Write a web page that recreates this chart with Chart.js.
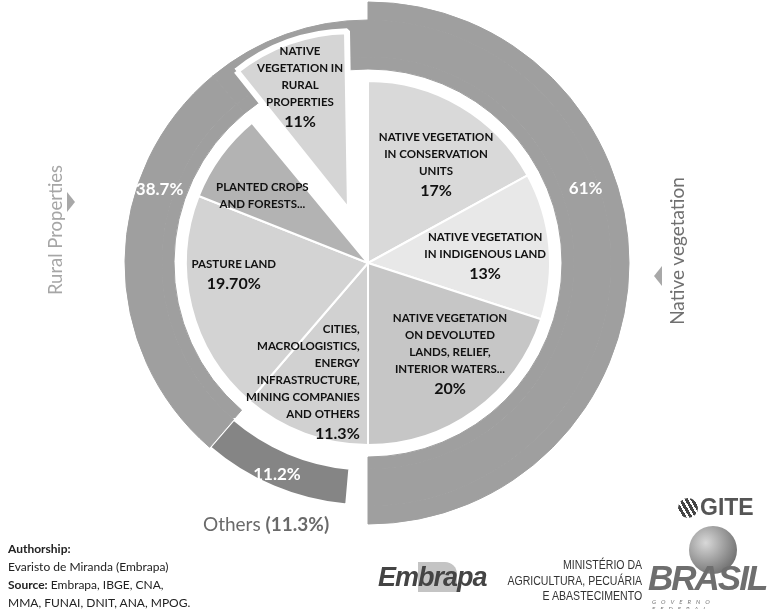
<!DOCTYPE html>
<html>
<head>
<meta charset="utf-8">
<script src="https://cdn.jsdelivr.net/npm/chart.js@4.4.0/dist/chart.umd.min.js"></script>
<style>
  body { margin: 0; background: #fff; }
  #wrap { position: relative; width: 772px; height: 609px; overflow: hidden; font-family: Lato, "Open Sans", sans-serif; }
  #chart { position: absolute; left: 0; top: 0; }
  .lbl { position: absolute; transform: translate(-50%, -50%); font-weight: 700; font-size: 11.5px; line-height: 17px; color: #111; white-space: nowrap; text-align: center; }
  .lbl .pct { display: block; font-size: 16px; line-height: 21px; }
  .ringPct { position: absolute; transform: translate(-50%, -50%); color: #fff; font-weight: 700; font-size: 17px; white-space: nowrap; }
  .side { position: absolute; transform: translate(-50%, -50%) rotate(-90deg); white-space: nowrap; }
  .arrow { position: absolute; width: 0; height: 0; border-top: 10px solid transparent; border-bottom: 10px solid transparent; }
  #others { position: absolute; left: 203px; top: 512px; font-size: 19px; color: #6a6a6a; white-space: nowrap; }
  #credits { position: absolute; left: 8px; top: 540px; font-size: 12px; line-height: 18px; color: #222; }
  #gite { position: absolute; left: 678px; top: 494px; font-family: "Liberation Sans", Arial, sans-serif; font-weight: 700; font-size: 23px; color: #555; }
  #gite .ball { display: inline-block; width: 20px; height: 20px; border-radius: 50%; vertical-align: -3px; margin-right: 2px;
    background: repeating-linear-gradient(60deg, #444 0 3px, #fff 3px 5px); }
  #embrapa { position: absolute; left: 378px; top: 562px; font-family: "Liberation Sans", Arial, sans-serif; font-weight: 700; font-style: italic; font-size: 27px; color: #444; letter-spacing: -1px; }
  #embrapa .bra { background: #c4c4c4; border-radius: 0 12px 0 0; }
  #ministerio { position: absolute; right: 130px; top: 558px; text-align: right; font-family: "Liberation Sans", Arial, sans-serif; font-size: 12px; line-height: 15.5px; color: #333; transform: scaleX(0.88); transform-origin: right top; }
  #brasil { position: absolute; left: 646px; top: 520px; width: 126px; height: 89px; }
  #brasil .globe { position: absolute; left: 43px; top: 6px; width: 48px; height: 48px; border-radius: 50%; background: radial-gradient(circle at 35% 35%, #d8d8d8, #7a7a7a 70%, #555); }
  #brasil .word { position: absolute; left: 2px; top: 38px; font-family: "Liberation Sans", Arial, sans-serif; font-weight: 700; font-style: italic; font-size: 35px; letter-spacing: -2px; color: #6e6e6e; }
  #brasil .gov { position: absolute; left: 6px; top: 78px; font-size: 6px; letter-spacing: 5px; color: #777; font-style: italic; }
</style>
</head>
<body>
<div id="wrap">
  <canvas id="chart" width="772" height="609"></canvas>

  <div class="side" style="left:55px; top:230px; font-size:18.5px; color:#a6a6a6;">Rural Properties</div>
  <div class="arrow" style="left:67px; top:192px; border-left:8px solid #a8a8a8;"></div>
  <div class="side" style="left:676px; top:251px; font-size:19px; color:#707070;">Native vegetation</div>
  <div class="arrow" style="left:654px; top:266px; border-right:8px solid #a8a8a8;"></div>

  <div id="others">Others <b>(11.3%)</b></div>

  <div id="credits">
    <b>Authorship:</b><br>
    Evaristo de Miranda (Embrapa)<br>
    <b>Source:</b> Embrapa, IBGE, CNA,<br>
    MMA, FUNAI, DNIT, ANA, MPOG.
  </div>

  <div id="gite"><span class="ball"></span>GITE</div>
  <div id="embrapa">Em<span class="bra">bra</span>pa</div>
  <div id="ministerio">MINISTÉRIO DA<br>AGRICULTURA, PECUÁRIA<br>E ABASTECIMENTO</div>
  <div id="brasil"><div class="globe"></div><div class="word">BRASIL</div><div class="gov">GOVERNO FEDERAL</div></div>
</div>

<script>
// inner pie, clockwise from 12 o'clock
const sliceLabels = [
  'NATIVE VEGETATION<br>IN CONSERVATION<br>UNITS',
  'NATIVE VEGETATION<br>IN INDIGENOUS LAND',
  'NATIVE VEGETATION<br>ON DEVOLUTED<br>LANDS, RELIEF,<br>INTERIOR WATERS...',
  'CITIES,<br>MACROLOGISTICS,<br>ENERGY<br>INFRASTRUCTURE,<br>MINING COMPANIES<br>AND OTHERS',
  'PASTURE LAND',
  'PLANTED CROPS<br>AND FORESTS...',
  'NATIVE<br>VEGETATION IN<br>RURAL<br>PROPERTIES'
];
const sliceValues = [17, 13, 20, 11.3, 19.7, 8, 11];
const slicePct = ['17%', '13%', '20%', '11.3%', '19.70%', '', '11%'];
const sliceColors = ['#d9d9d9', '#e8e8e8', '#c6c6c6', '#d1d1d1', '#d3d3d3', '#b3b3b3', '#d5d5d5'];
const pieOffsets = [0, 0, 0, 0, 0, 0, 212];

// outer ring segments, same start
const ringLabels = ['Native vegetation', '', 'Others', 'Rural Properties', 'Rural Properties'];
const ringValues = [50, 1.4, 9.9, 27.7, 11];
const ringPct = ['61%', '', '11.2%', '38.7%', ''];

const RING = '#9f9f9f';
const OTHERS = '#858585';
const NONE = 'rgba(0,0,0,0)';

const bandColors = [RING, NONE, NONE, NONE, NONE];
const ringAColors = [RING, NONE, OTHERS, RING, RING];
const ringBColors = [RING, NONE, NONE, RING, RING];

// label placement: angle nudge (deg) and distance as share of pie radius
const sliceLabelPos = [
  { da: 3.9, f: 0.66, align: 'center' },
  { da: 1.7, f: 0.645, align: 'center' },
  { da: -6.5, f: 0.667, align: 'center' },
  { da: 8.6, f: 0.74, align: 'right' },
  { da: 9.1, f: 0.74, align: 'center' },
  { da: -3.3, f: 0.69, align: 'center' },
  { da: -1.7, f: 0.75, align: 'center' }
];
const ringLabelPos = [{ da: -19.2, dr: 6 }, null, { da: 0.6, dr: 4 }, { da: 19.3, dr: -3 }, null];

const explodeFix = {
  id: 'explodeFix',
  afterUpdate(chart) {
    // arc offset also grows the radius; pull it back so the slice keeps its size
    chart.getDatasetMeta(4).data.forEach((arc, i) => {
      const shift = pieOffsets[i] / 4;
      if (!shift) return;
      arc.outerRadius -= shift * (1 - Math.sin(Math.min(Math.PI, arc.circumference)));
    });
  }
};

const chart = new Chart(document.getElementById('chart'), {
  type: 'pie',
  data: {
    labels: ringLabels,
    datasets: [
      { data: ringValues, backgroundColor: bandColors, borderColor: bandColors, borderWidth: 1, weight: 18 },
      { data: ringValues, backgroundColor: ringAColors, borderColor: [RING, NONE, '#fff', RING, RING], borderWidth: [1, 0, 3, 1, 1], weight: 37 },
      { data: ringValues, backgroundColor: ringBColors, borderColor: ringBColors, borderWidth: 1, weight: 12 },
      { data: [1], backgroundColor: NONE, borderWidth: 0, weight: 12 },
      { data: sliceValues, backgroundColor: sliceColors, borderColor: '#fff', borderWidth: [2, 2, 2, 2, 2, 2, 6], offset: pieOffsets, weight: 182, order: -1 }
    ]
  },
  options: {
    responsive: false,
    animation: false,
    events: [],
    radius: 261,
    cutout: 0,
    layout: { padding: { left: 0, right: 36, top: 0, bottom: 83 } },
    plugins: { legend: { display: false }, tooltip: { enabled: false } }
  },
  plugins: [explodeFix]
});

function placeLabels() {
  const wrap = document.getElementById('wrap');
  const pieMeta = chart.getDatasetMeta(4);
  const R = pieMeta.controller.outerRadius;
  pieMeta.data.forEach((arc, i) => {
    const p = sliceLabelPos[i];
    const mid = (arc.startAngle + arc.endAngle) / 2;
    const shift = pieOffsets[i] / 4;
    const ang = mid + p.da * Math.PI / 180;
    const x = arc.x + Math.cos(mid) * shift + Math.cos(ang) * p.f * R;
    const y = arc.y + Math.sin(mid) * shift + Math.sin(ang) * p.f * R;
    const div = document.createElement('div');
    div.className = 'lbl';
    div.style.left = x + 'px';
    div.style.top = y + 'px';
    div.style.textAlign = p.align;
    div.innerHTML = sliceLabels[i] + (slicePct[i] ? '<span class="pct">' + slicePct[i] + '</span>' : '');
    wrap.appendChild(div);
  });

  const ringMeta = chart.getDatasetMeta(1);
  ringMeta.data.forEach((arc, i) => {
    const p = ringLabelPos[i];
    if (!p) return;
    const ang = (arc.startAngle + arc.endAngle) / 2 + p.da * Math.PI / 180;
    const r = (arc.innerRadius + arc.outerRadius) / 2 + p.dr;
    const div = document.createElement('div');
    div.className = 'ringPct';
    div.style.left = (arc.x + Math.cos(ang) * r) + 'px';
    div.style.top = (arc.y + Math.sin(ang) * r) + 'px';
    div.textContent = ringPct[i];
    wrap.appendChild(div);
  });
}

placeLabels();
</script>
</body>
</html>
